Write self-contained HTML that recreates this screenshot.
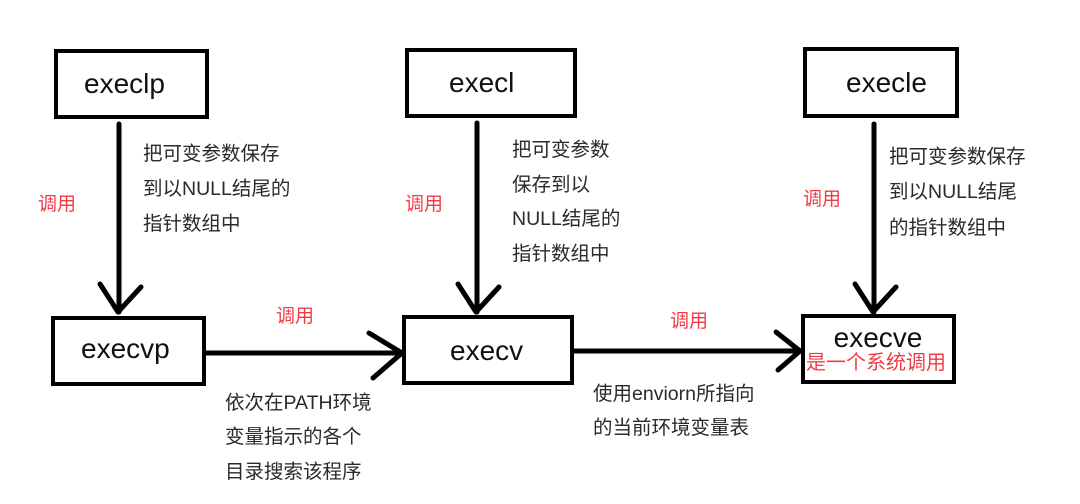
<!DOCTYPE html>
<html><head><meta charset="utf-8"><style>
html,body{margin:0;padding:0;background:#fff;width:1080px;height:504px;overflow:hidden}
svg text{font-family:"Liberation Sans","Noto Sans CJK SC",sans-serif}
.t{font-size:19.5px;fill:#2a2a2a}
.r{font-size:19px;fill:#f03c46}
.b{font-size:28px;fill:#111}
</style></head><body>
<svg width="1080" height="504" viewBox="0 0 1080 504" xmlns="http://www.w3.org/2000/svg">
<g fill="none" stroke="#000" stroke-width="4">
<rect x="56" y="51" width="151" height="66"/>
<rect x="407" y="50" width="168" height="66"/>
<rect x="805" y="49" width="152" height="67"/>
<rect x="53" y="318" width="151" height="66"/>
<rect x="404" y="317" width="168" height="66"/>
<rect x="803" y="316" width="151" height="66"/>
</g>
<g fill="none" stroke="#000" stroke-width="5" stroke-linecap="round" stroke-linejoin="round">
<path d="M119 124 V312"/><path d="M100 284 L118 312 L141 287"/>
<path d="M477 123 V312"/><path d="M458 284 L476 312 L499 287"/>
<path d="M874 124 V312"/><path d="M855 284 L873 312 L896 287"/>
<path d="M206 353 H402"/><path d="M369 333 L402 353 L373 378"/>
<path d="M574 351 H800"/><path d="M776 332 L800 351 L778 370"/>
</g>
<text class="b" x="84" y="93">execlp</text>
<text class="b" x="449" y="92">execl</text>
<text class="b" x="846" y="92">execle</text>
<text class="b" x="81" y="358">execvp</text>
<text class="b" x="450" y="360">execv</text>
<text class="b" x="878" y="347" text-anchor="middle">execve</text>
<text x="876" y="369" text-anchor="middle" style="font-size:20px;fill:#f03c46">是一个系统调用</text>
<text class="t" x="143" y="160">把可变参数保存</text>
<text class="t" x="143" y="195">到以NULL结尾的</text>
<text class="t" x="143" y="230">指针数组中</text>
<text class="t" x="512" y="156">把可变参数</text>
<text class="t" x="512" y="191">保存到以</text>
<text class="t" x="512" y="225">NULL结尾的</text>
<text class="t" x="512" y="260">指针数组中</text>
<text class="t" x="889" y="163">把可变参数保存</text>
<text class="t" x="889" y="198">到以NULL结尾</text>
<text class="t" x="889" y="234">的指针数组中</text>
<text class="t" x="225" y="409">依次在PATH环境</text>
<text class="t" x="225" y="443">变量指示的各个</text>
<text class="t" x="225" y="478">目录搜索该程序</text>
<text class="t" x="593" y="400">使用enviorn所指向</text>
<text class="t" x="593" y="434">的当前环境变量表</text>
<text class="r" x="38" y="210">调用</text>
<text class="r" x="405" y="210">调用</text>
<text class="r" x="803" y="205">调用</text>
<text class="r" x="276" y="322">调用</text>
<text class="r" x="670" y="327">调用</text>
</svg>
</body></html>
